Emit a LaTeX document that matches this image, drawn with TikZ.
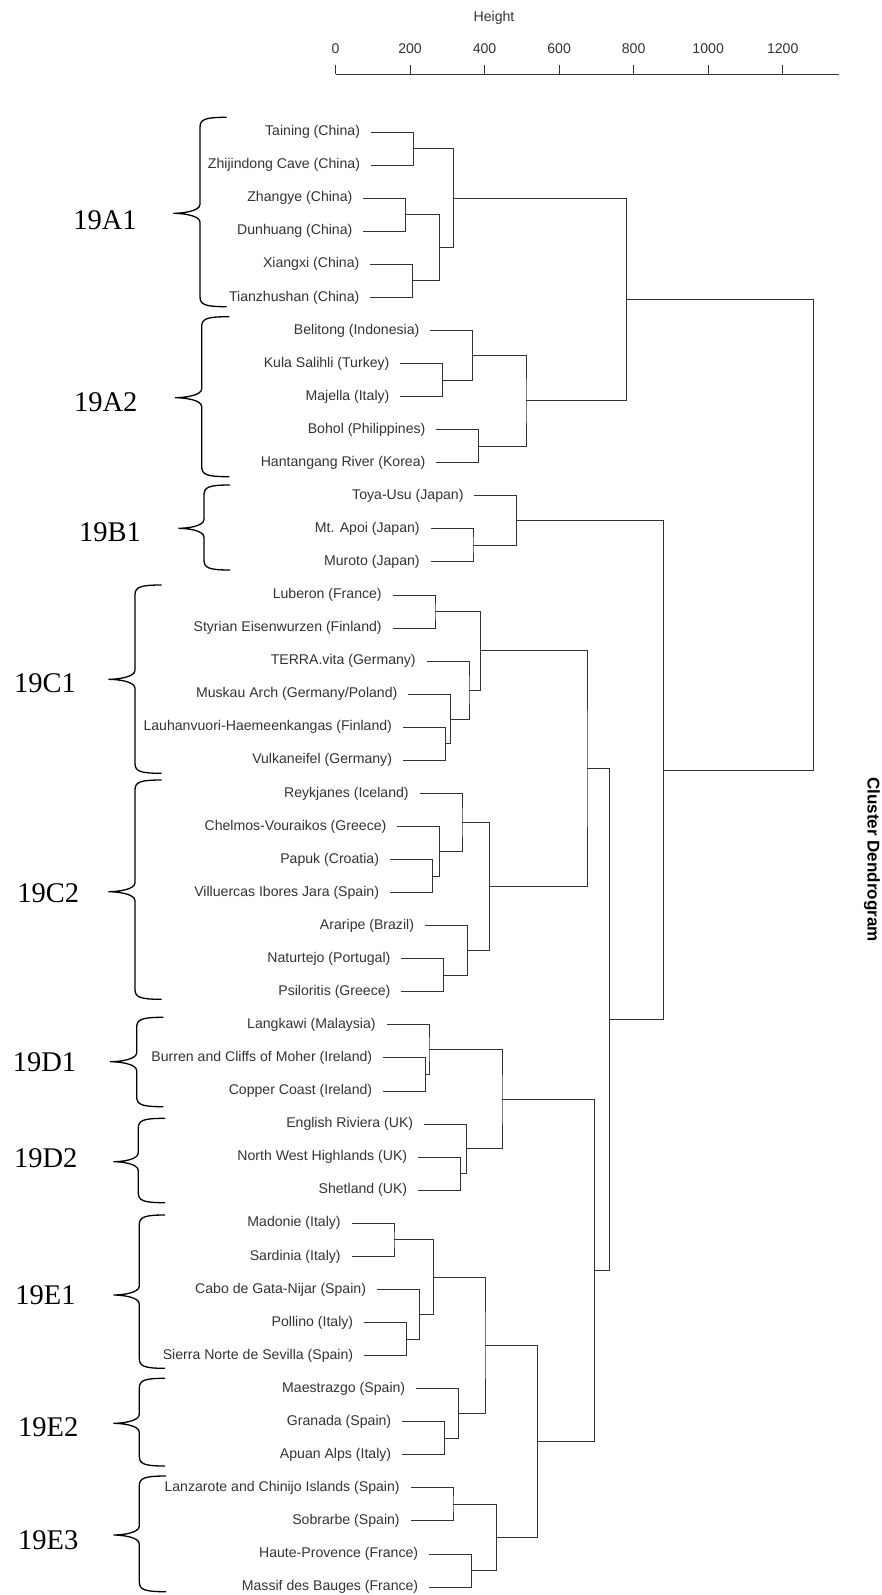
\documentclass[tikz,border=0pt]{standalone}
\usepackage{fontspec}
\setmainfont{Liberation Sans}
\newfontfamily\grpfont{Liberation Serif}
\usetikzlibrary{calc}
\definecolor{ink}{HTML}{333333}

% leaf label: name, x of its parent merge, row index, text
\newcommand\leafnode[4]{\node[leaf] (#1) at ({#2-42.5},{132+33.07*#3}) {#4};}
% merge point: name, height (x), first child, second child
\newcommand\joinat[4]{%
  \path let \p1=($(#3)!.5!(#4)$) in coordinate (#1) at (#2pt,\y1);
  \draw[tree] (#3) -| (#1) |- (#4);}
% curly group brace: end x, spine x, tip x, top y, tip y, bottom y
\newcommand\grpbrace[6]{%
  \draw[grpline] (#1,#4) .. controls ({#2+5},#4) and (#2,{#4+2}) .. (#2,{#4+10})
    -- (#2,{#5-9}) .. controls (#2,{#5-2}) and ({#3+9},#5) .. (#3,#5)
    .. controls ({#3+9},#5) and (#2,{#5+2}) .. (#2,{#5+9})
    -- (#2,{#6-10}) .. controls (#2,{#6-2}) and ({#2+5},#6) .. (#1,#6);}

\begin{document}
\begin{tikzpicture}[x=1pt,y=-1pt,
  tree/.style={draw=ink,line width=0.95pt},
  grpline/.style={draw=black,line width=1.3pt},
  leaf/.style={anchor=east,inner xsep=10.8pt,inner ysep=0pt,outer sep=0pt,
    text height=10.3pt,text depth=3pt,text=ink,font=\fontsize{14.1}{16}\selectfont},
  ticklab/.style={anchor=base,inner sep=0pt,text=ink,font=\fontsize{14.1}{16}\selectfont},
  grp/.style={inner sep=0pt,text=black,font=\grpfont\fontsize{28.5}{30}\selectfont},
  ttl/.style={inner sep=0pt,text=black,font=\bfseries\fontsize{17}{19}\selectfont}]
\useasboundingbox (0,0) rectangle (881,1595);
\fill[white] (0,0) rectangle (881,1595);

% height axis
\coordinate (ax0) at (335.5,74);
\coordinate (ax1) at (839,74);
\draw[tree] (ax0) -- (ax1);
\foreach \v in {0,200,400,600,800,1000,1200}{
  \draw[tree] ({335.5+0.37267*\v},74) -- ++(0,-9);
  \node[ticklab] (tick\v) at ({335.5+0.37267*\v},53) {\v};
}
\node[ticklab] (hgt) at (494,22) {Height};
\node[ttl,rotate=-90] (title) at (872,859.5) {Cluster Dendrogram};

% leaves
\leafnode{L0}{413.3}{0}{Taining (China)}
\leafnode{L1}{413.3}{1}{Zhijindong Cave (China)}
\leafnode{L2}{405.7}{2}{Zhangye (China)}
\leafnode{L3}{405.7}{3}{Dunhuang (China)}
\leafnode{L4}{412.7}{4}{Xiangxi (China)}
\leafnode{L5}{412.7}{5}{Tianzhushan (China)}
\leafnode{L6}{472.7}{6}{Belitong (Indonesia)}
\leafnode{L7}{442.7}{7}{Kula Salihli (Turkey)}
\leafnode{L8}{442.7}{8}{Majella (Italy)}
\leafnode{L9}{478.7}{9}{Bohol (Philippines)}
\leafnode{L10}{478.7}{10}{Hantangang River (Korea)}
\leafnode{L11}{516.8}{11}{Toya-Usu (Japan)}
\leafnode{L12}{473}{12}{Mt. Apoi (Japan)}
\leafnode{L13}{473}{13}{Muroto (Japan)}
\leafnode{L14}{435}{14}{Luberon (France)}
\leafnode{L15}{435}{15}{Styrian Eisenwurzen (Finland)}
\leafnode{L16}{469}{16}{TERRA.vita (Germany)}
\leafnode{L17}{450.7}{17}{Muskau Arch (Germany/Poland)}
\leafnode{L18}{445.3}{18}{Lauhanvuori-Haemeenkangas (Finland)}
\leafnode{L19}{445.3}{19}{Vulkaneifel (Germany)}
\leafnode{L20}{462}{20}{Reykjanes (Iceland)}
\leafnode{L21}{439.7}{21}{Chelmos-Vouraikos (Greece)}
\leafnode{L22}{432.3}{22}{Papuk (Croatia)}
\leafnode{L23}{432.3}{23}{Villuercas Ibores Jara (Spain)}
\leafnode{L24}{467.3}{24}{Araripe (Brazil)}
\leafnode{L25}{443.7}{25}{Naturtejo (Portugal)}
\leafnode{L26}{443.7}{26}{Psiloritis (Greece)}
\leafnode{L27}{429}{27}{Langkawi (Malaysia)}
\leafnode{L28}{425.5}{28}{Burren and Cliffs of Moher (Ireland)}
\leafnode{L29}{425.5}{29}{Copper Coast (Ireland)}
\leafnode{L30}{466.5}{30}{English Riviera (UK)}
\leafnode{L31}{460.5}{31}{North West Highlands (UK)}
\leafnode{L32}{460.5}{32}{Shetland (UK)}
\leafnode{L33}{394}{33}{Madonie (Italy)}
\leafnode{L34}{394}{34}{Sardinia (Italy)}
\leafnode{L35}{419.3}{35}{Cabo de Gata-Nijar (Spain)}
\leafnode{L36}{406.5}{36}{Pollino (Italy)}
\leafnode{L37}{406.5}{37}{Sierra Norte de Sevilla (Spain)}
\leafnode{L38}{458.5}{38}{Maestrazgo (Spain)}
\leafnode{L39}{444.5}{39}{Granada (Spain)}
\leafnode{L40}{444.5}{40}{Apuan Alps (Italy)}
\leafnode{L41}{453}{41}{Lanzarote and Chinijo Islands (Spain)}
\leafnode{L42}{453}{42}{Sobrarbe (Spain)}
\leafnode{L43}{471.5}{43}{Haute-Provence (France)}
\leafnode{L44}{471.5}{44}{Massif des Bauges (France)}

% merges
\joinat{mA1a}{413.3}{L0.east}{L1.east}
\joinat{mA1b}{405.7}{L2.east}{L3.east}
\joinat{mA1c}{412.7}{L4.east}{L5.east}
\joinat{mA1bc}{439.3}{mA1b}{mA1c}
\joinat{mA1}{453.3}{mA1a}{mA1bc}
\joinat{mA2a}{442.7}{L7.east}{L8.east}
\joinat{mA2b}{472.7}{L6.east}{mA2a}
\joinat{mA2c}{478.7}{L9.east}{L10.east}
\joinat{mA2}{526}{mA2b}{mA2c}
\joinat{mA}{626.7}{mA1}{mA2}
\joinat{mB1a}{473}{L12.east}{L13.east}
\joinat{mB1}{516.8}{L11.east}{mB1a}
\joinat{mC1a}{435}{L14.east}{L15.east}
\joinat{mC1b}{445.3}{L18.east}{L19.east}
\joinat{mC1c}{450.7}{L17.east}{mC1b}
\joinat{mC1d}{469}{L16.east}{mC1c}
\joinat{mC1}{480.3}{mC1a}{mC1d}
\joinat{mC2a}{432.3}{L22.east}{L23.east}
\joinat{mC2b}{439.7}{L21.east}{mC2a}
\joinat{mC2c}{462}{L20.east}{mC2b}
\joinat{mC2d}{443.7}{L25.east}{L26.east}
\joinat{mC2e}{467.3}{L24.east}{mC2d}
\joinat{mC2}{489.3}{mC2c}{mC2e}
\joinat{mC}{587}{mC1}{mC2}
\joinat{mD1a}{425.5}{L28.east}{L29.east}
\joinat{mD1}{429}{L27.east}{mD1a}
\joinat{mD2a}{460.5}{L31.east}{L32.east}
\joinat{mD2}{466.5}{L30.east}{mD2a}
\joinat{mD}{502}{mD1}{mD2}
\joinat{mE1a}{394}{L33.east}{L34.east}
\joinat{mE1b}{406.5}{L36.east}{L37.east}
\joinat{mE1c}{419.3}{L35.east}{mE1b}
\joinat{mE1}{433.3}{mE1a}{mE1c}
\joinat{mE2a}{444.5}{L39.east}{L40.east}
\joinat{mE2}{458.5}{L38.east}{mE2a}
\joinat{mE12}{485}{mE1}{mE2}
\joinat{mE3a}{453}{L41.east}{L42.east}
\joinat{mE3b}{471.5}{L43.east}{L44.east}
\joinat{mE3}{496.4}{mE3a}{mE3b}
\joinat{mE}{537.2}{mE12}{mE3}
\joinat{mDE}{594.5}{mD}{mE}
\joinat{mCDE}{609.3}{mC}{mDE}
\joinat{mBCDE}{663.7}{mB1}{mCDE}
\joinat{root}{813.3}{mA}{mBCDE}

% group braces and labels
\grpbrace{226.7}{200}{173.3}{117.3}{213.3}{306.7}
\grpbrace{229.3}{201.7}{175}{316.7}{397.7}{476.7}
\grpbrace{230}{204}{178.3}{485}{528.3}{570}
\grpbrace{161.7}{135}{108.3}{585}{679.3}{773.3}
\grpbrace{161.7}{135}{108.3}{780}{891.7}{999.3}
\grpbrace{163.3}{136.7}{110}{1017.3}{1061.7}{1106.7}
\grpbrace{165}{138.3}{113.3}{1118.3}{1161.7}{1202.7}
\grpbrace{165}{139.3}{113.3}{1215}{1295}{1368.3}
\grpbrace{165}{139.3}{113.3}{1378.3}{1423.3}{1466}
\grpbrace{166}{139.3}{113.3}{1476}{1535}{1591.7}

\node[grp] (g19A1) at (105,220.5) {19A1};
\node[grp] (g19A2) at (105.8,402.2) {19A2};
\node[grp] (g19B1) at (110,532.5) {19B1};
\node[grp] (g19C1) at (45,682.8) {19C1};
\node[grp] (g19C2) at (48.3,893.3) {19C2};
\node[grp] (g19D1) at (44.5,1061.7) {19D1};
\node[grp] (g19D2) at (45.8,1158.3) {19D2};
\node[grp] (g19E1) at (45.5,1295.5) {19E1};
\node[grp] (g19E2) at (48.3,1427.5) {19E2};
\node[grp] (g19E3) at (48.3,1539.7) {19E3};
\end{tikzpicture}
\end{document}
